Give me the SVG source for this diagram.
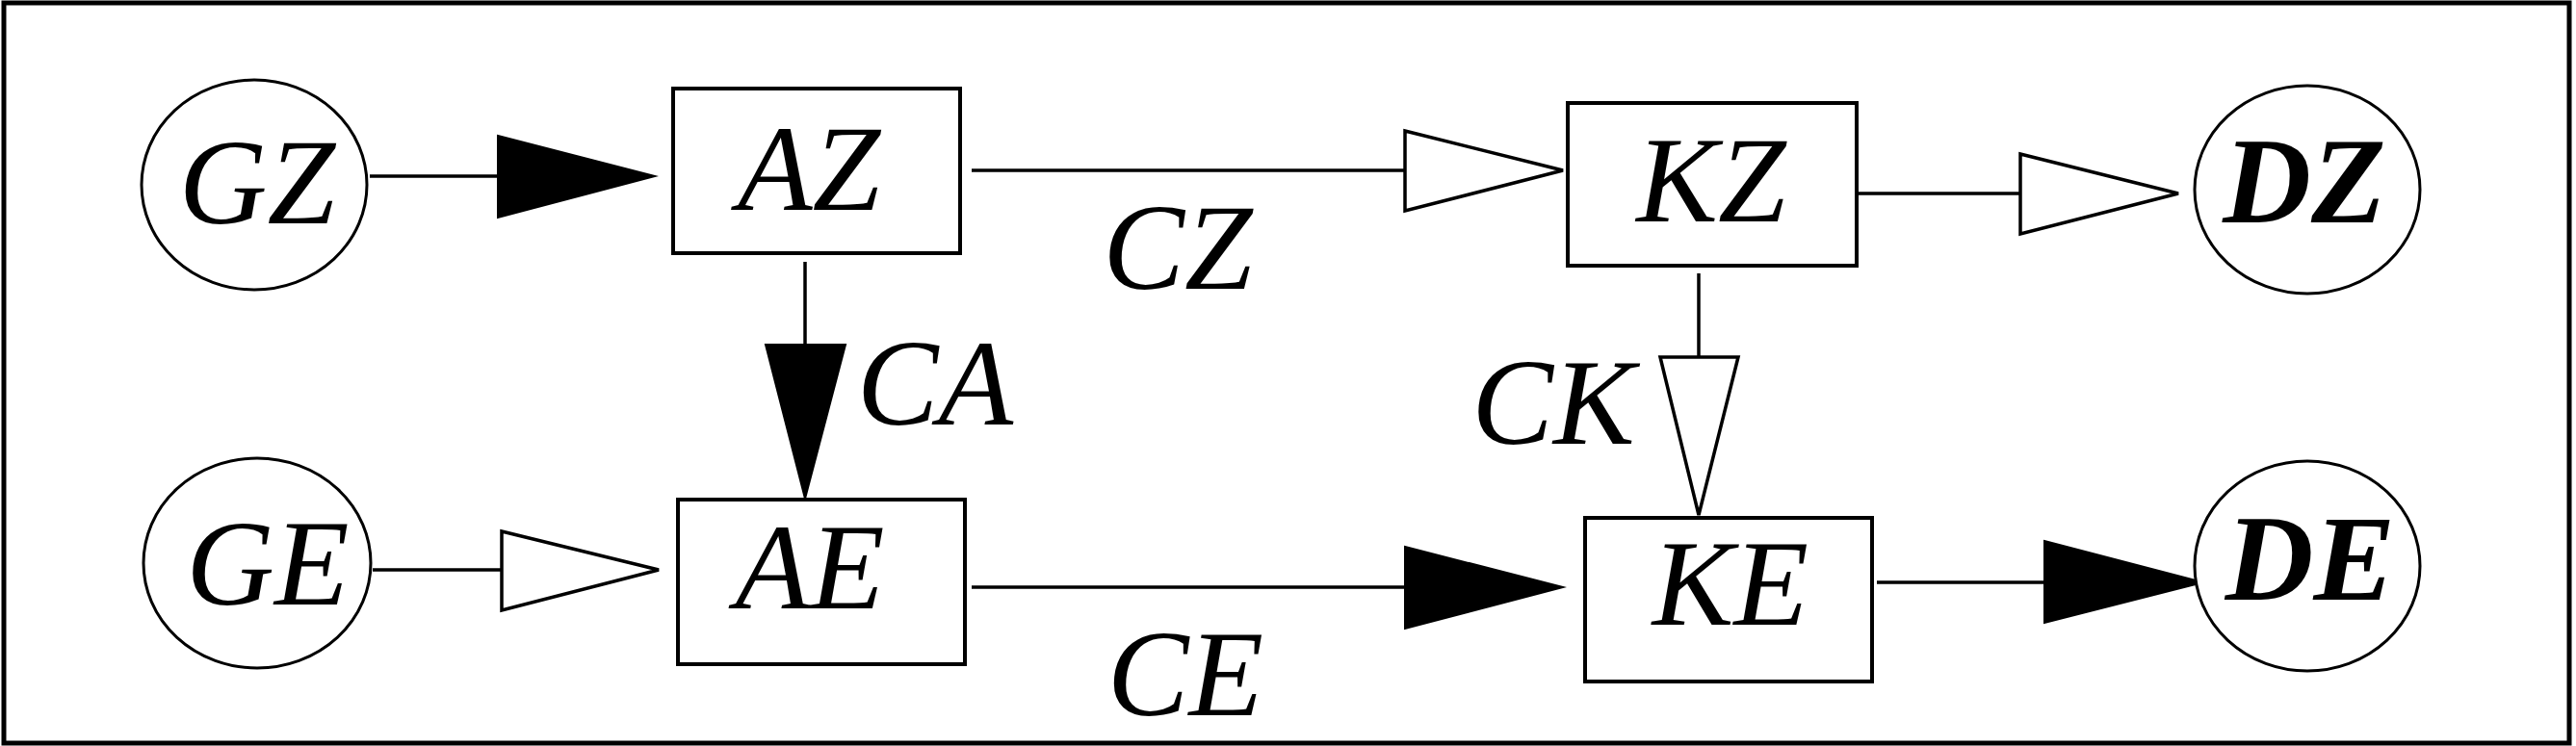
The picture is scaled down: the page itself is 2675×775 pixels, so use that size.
<svg xmlns="http://www.w3.org/2000/svg" width="2675" height="775" viewBox="0 0 2675 775">
<style>
.frame{fill:none;stroke:#000;stroke-width:5}
.box{fill:#fff;stroke:#000;stroke-width:4}
.ell{fill:#fff;stroke:#000;stroke-width:3}
.ln{stroke:#000;stroke-width:3.5;fill:none}
.ah-f{fill:#000;stroke:#000;stroke-width:2;stroke-linejoin:miter}
.ah-h{fill:#fff;stroke:#000;stroke-width:3.5;stroke-linejoin:miter}
.t{font-family:"Liberation Serif","Times New Roman",serif;font-style:italic;font-size:127px;text-anchor:middle;fill:#000}
.tb{font-weight:bold}
</style>
<rect x="0" y="0" width="2675" height="775" fill="#fff"/>
<rect class="frame" x="4" y="3" width="2664" height="769"/>
<g id="connectors">
<line class="ln" x1="384" y1="183" x2="520" y2="183"/>
<polygon class="ah-f" points="517,141 680,183 517,226"/>
<line class="ln" x1="1009" y1="177" x2="1459" y2="177"/>
<polygon class="ah-h" points="1459,136 1623,177 1459,219"/>
<line class="ln" x1="1922" y1="201" x2="2098" y2="201"/>
<polygon class="ah-h" points="2098,160 2262,201 2098,243"/>
<line class="ln" x1="836" y1="272" x2="836" y2="360"/>
<polygon class="ah-f" points="795,358 878,358 836,518"/>
<line class="ln" x1="1764" y1="284" x2="1764" y2="371"/>
<polygon class="ah-h" points="1724,371 1805,371 1764,535"/>
<line class="ln" x1="387" y1="592" x2="521" y2="592"/>
<polygon class="ah-h" points="521,552 684,592 521,634"/>
<line class="ln" x1="1009" y1="610" x2="1462" y2="610"/>
<polygon class="ah-f" points="1459,568 1623,610 1459,653"/>
<line class="ln" x1="1949" y1="605" x2="2126" y2="605"/>
<polygon class="ah-f" points="2123,562 2288,605 2123,647"/>
<text class="t" x="1223" y="300">CZ</text>
<text class="t" x="971" y="441">CA</text>
<text class="t" x="1613" y="461">CK</text>
<text class="t" x="1231" y="743">CE</text>
</g>
<g id="GZ"><ellipse class="ell" cx="264" cy="192" rx="117" ry="109"/><text class="t" x="267" y="232">GZ</text></g>
<g id="AZ"><rect class="box" x="699" y="92" width="298" height="171"/><text class="t" x="840" y="218">AZ</text></g>
<g id="KZ"><rect class="box" x="1628" y="107" width="300" height="169"/><text class="t" x="1777" y="230">KZ</text></g>
<g id="DZ"><ellipse class="ell" cx="2396" cy="197" rx="117" ry="108"/><text class="t tb" x="2393" y="231">DZ</text></g>
<g id="GE"><ellipse class="ell" cx="267" cy="585" rx="118" ry="109"/><text class="t" x="278" y="628">GE</text></g>
<g id="AE"><rect class="box" x="704" y="519" width="298" height="171"/><text class="t" x="841" y="632">AE</text></g>
<g id="KE"><rect class="box" x="1646" y="538" width="298" height="170"/><text class="t" x="1797" y="649">KE</text></g>
<g id="DE"><ellipse class="ell" cx="2396" cy="588" rx="117" ry="109"/><text class="t tb" x="2399" y="623">DE</text></g>
</svg>
